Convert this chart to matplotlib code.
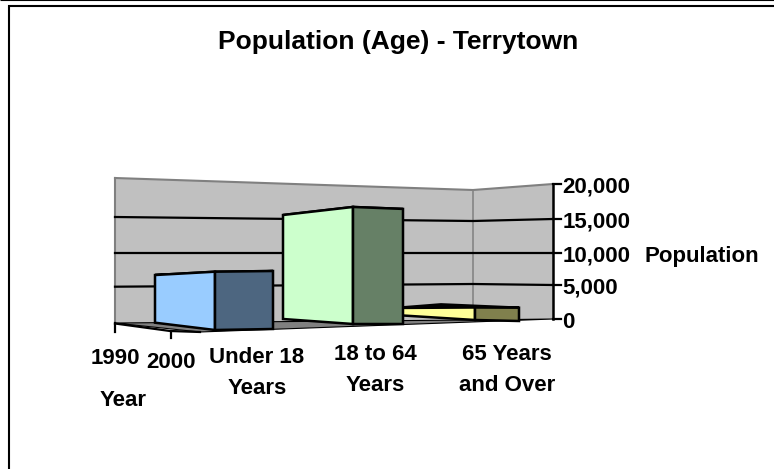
# population chart, fake 3D column look like the old Excel one
import matplotlib
matplotlib.use("Agg")
import matplotlib.pyplot as plt
import numpy as np

categories = ["Under 18\nYears", "18 to 64\nYears", "65 Years\nand Over"]
population = [7700, 16300, 1900]
years = ["1990", "2000"]
value_ticks = [0, 5000, 10000, 15000, 20000]

left_colors = ["#99CCFF", "#CCFFCC", "#FFFF99"]
right_colors = ["#4D6680", "#668066", "#80804D"]

plt.rcParams["font.family"] = "Liberation Sans"
plt.rcParams["font.weight"] = "bold"

# wall scale: where each tick value lands on the left end, the corner and the right end
wall_x = [115, 473, 553]
wall_y = np.array([[323, 286.7, 252.7, 217, 178],
                   [320, 284, 252.7, 221, 190],
                   [319, 285, 252.7, 219, 184]])

# column layout, one row per category, edges are left, corner, right, hidden back
edge_x = [[155, 215, 273, 213], [283, 353, 403, 345], [395, 475, 519, 441]]
edge_base = [[322.7, 330, 329, 321], [319, 324, 324, 318], [315, 320, 321, 315]]
# pixels per 1000 people on each edge (perspective makes them differ)
edge_scale = [[6.19, 7.57, 7.53, 6.2], [6.38, 7.18, 7.06, 6.3], [3.7, 6.58, 7.0, 5.6]]

fig = plt.figure(figsize=(7.74, 4.69), dpi=100)
ax = fig.add_axes([0, 0, 1, 1])
ax.set_xlim(0, 774)
ax.set_ylim(469, 0)
ax.axis("off")


def poly(points, color, edge="black", lw=1.8, z=2):
    ax.fill([p[0] for p in points], [p[1] for p in points], facecolor=color, edgecolor=edge,
            linewidth=lw, joinstyle="miter", zorder=z)


def wall_line(tick):
    return wall_x, wall_y[:, tick]


# walls
top_x, top_y = wall_line(4)
base_x, base_y = wall_line(0)
poly(list(zip(base_x, base_y)) + list(zip(top_x, top_y))[::-1], "#C0C0C0", "none", 0, 1)
ax.plot(top_x, top_y, color="#808080", lw=1.5, zorder=1.2)
ax.plot([wall_x[0], wall_x[0]], [base_y[0], top_y[0]], color="#808080", lw=1.5, zorder=1.2)
ax.plot([wall_x[1], wall_x[1]], [base_y[1], top_y[1]], color="#808080", lw=1.1, zorder=1.2)

# floor, near corner sits behind the blue column
near = (200, 332)
poly([(base_x[0], base_y[0]), (base_x[1], base_y[1]), (base_x[2], base_y[2]), near], "#808080", "black", 0.8, 1.5)

for t in range(1, 4):
    x, y = wall_line(t)
    ax.plot(x, y, color="black", lw=1.6, zorder=1.6)

# value axis on the right
ax.plot([wall_x[2], wall_x[2]], [wall_y[2, 0], wall_y[2, 4]], color="black", lw=1.8, zorder=3)
for t, v in enumerate(value_ticks):
    y = wall_y[2, t]
    ax.plot([wall_x[2], wall_x[2] + 8], [y, y], color="black", lw=1.6, zorder=3)
    ax.text(562.5, y + 3, f"{v:,}", fontsize=16, ha="left", va="center")

# year ticks on the depth axis
ax.plot([115, 170, near[0]], [323.5, 331, near[1]], color="black", lw=1.6, zorder=1.7)
ax.plot([115, 115], [323, 332], color="black", lw=1.6, zorder=1.7)
ax.plot([171, 171], [331, 338], color="black", lw=1.6, zorder=1.7)

# columns, far one first so green sits on top of yellow
for i in [2, 1, 0]:
    h = population[i] / 1000
    tops = [(x, b - s * h) for x, b, s in zip(edge_x[i], edge_base[i], edge_scale[i])]
    bases = list(zip(edge_x[i], edge_base[i]))
    z = 4 + (2 - i)
    poly([tops[0], tops[1], tops[2], tops[3]], "black", z=z)
    poly([bases[0], bases[1], tops[1], tops[0]], left_colors[i], z=z)
    poly([bases[1], bases[2], tops[2], tops[1]], right_colors[i], z=z)

# text
ax.text(398, 42.5, "Population (Age) - Terrytown", fontsize=19, ha="center", va="center")
ax.text(701.5, 256.5, "Population", fontsize=16, ha="center", va="center")
ax.text(115, 358, years[0], fontsize=16, ha="center", va="center")
ax.text(171, 363, years[1], fontsize=16, ha="center", va="center")
ax.text(123.5, 400, "Year", fontsize=16, ha="center", va="center")
for label, x, y in zip(categories, [257, 375, 507], [373, 370, 370]):
    ax.text(x, y, label, fontsize=16, ha="center", va="center", linespacing=1.6)

# frame lines around the pasted picture
ax.plot([0, 774], [0.5, 0.5], color="black", lw=0.8, solid_capstyle="butt")
ax.plot([8, 774], [6.3, 6.3], color="black", lw=1.5, solid_capstyle="butt")
ax.plot([9, 9], [5.3, 469], color="black", lw=1.5, solid_capstyle="butt")

fig.savefig("out.png", dpi=100)
